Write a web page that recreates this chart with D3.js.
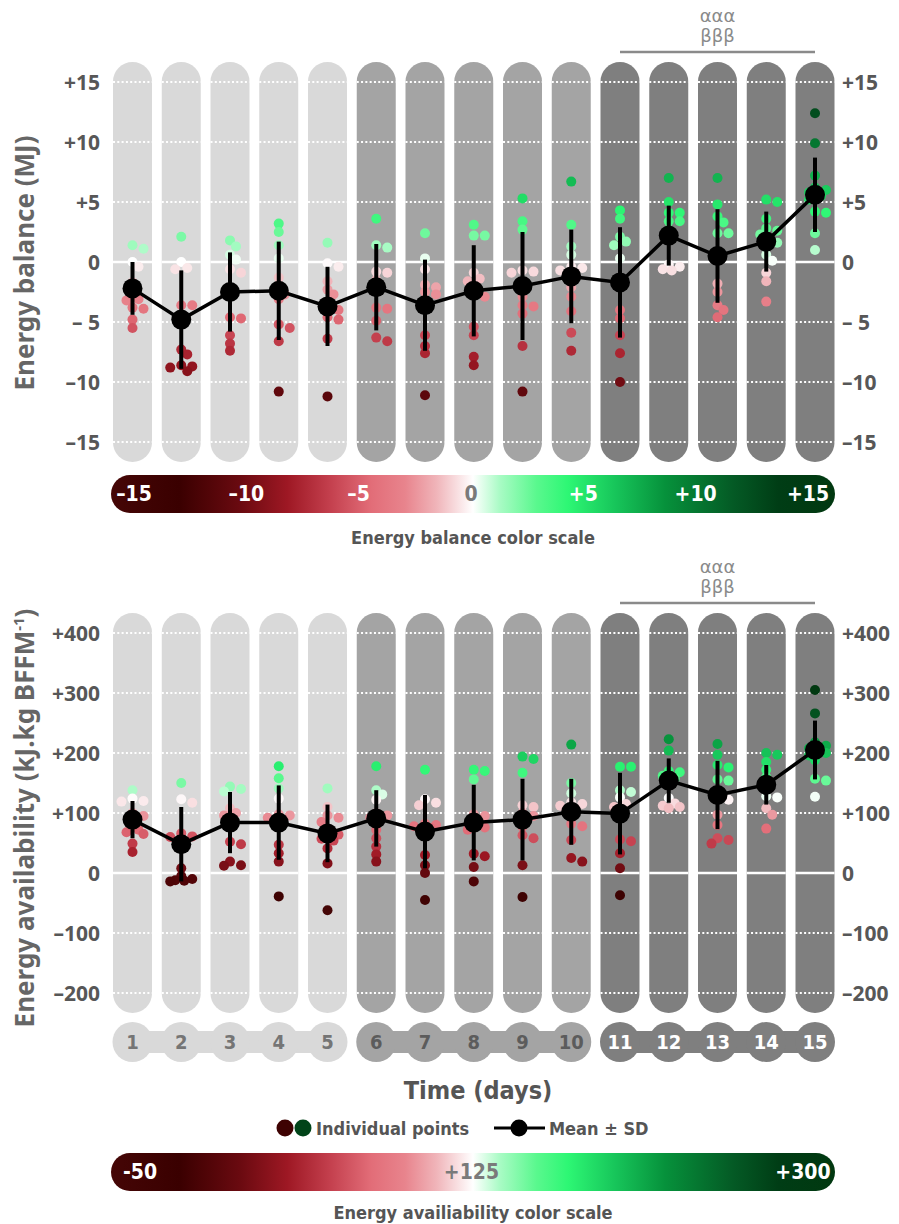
<!DOCTYPE html>
<html>
<head>
<meta charset="utf-8">
<script src="https://cdn.jsdelivr.net/npm/d3@7"></script>
<style>
  html, body { margin: 0; padding: 0; background: #ffffff; }
  svg { display: block; }
  .tick-label { font-family: "Noto Sans", "DejaVu Sans", sans-serif; font-weight: 700; font-size: 21px; fill: #575757; }
  .axis-title { font-family: "Noto Sans", "DejaVu Sans", sans-serif; font-weight: 700; font-size: 26px; fill: #666666; }
  .cond { font-family: "DejaVu Sans Condensed", "DejaVu Sans", sans-serif; font-stretch: condensed; font-weight: 700; }
  .annot { font-family: "DejaVu Sans", sans-serif; font-size: 18px; fill: #8a8a8a; }
</style>
</head>
<body>
<svg id="chart" width="899" height="1224"></svg>
<script>
// ---- data ---------------------------------------------------------------
const days = [1, 2, 3, 4, 5, 6, 7, 8, 9, 10, 11, 12, 13, 14, 15];
const dayPhase = [0, 0, 0, 0, 0, 1, 1, 1, 1, 1, 2, 2, 2, 2, 2];

// Energy balance (MJ)
const ebMean = [-2.2, -4.8, -2.5, -2.4, -3.7, -2.1, -3.6, -2.4, -2.0, -1.2, -1.7, 2.2, 0.5, 1.7, 5.6];
const ebSD   = [2.2, 4.1, 3.3, 4.1, 3.3, 3.6, 3.8, 3.8, 4.5, 3.9, 4.6, 2.5, 3.9, 2.5, 3.1];
const ebPoints = [
  [1.4, 1.1, 0.0, -0.4, -1.7, -2.6, -3.1, -3.2, -3.9, -3.8, -4.8, -5.5],
  [2.1, 0.0, -0.5, -0.6, -3.6, -3.6, -7.3, -7.7, -8.6, -8.7, -8.8, -9.1],
  [1.8, 1.3, 0.6, 0.2, -0.6, -0.9, -4.6, -4.7, -6.1, -6.8, -7.4],
  [3.2, 2.5, 1.4, 0.3, -1.3, -2.2, -2.7, -3.1, -5.2, -5.5, -6.6, -10.8],
  [1.6, -0.1, -0.4, -1.6, -2.3, -2.7, -4.0, -4.0, -4.6, -4.8, -6.4, -11.2],
  [3.6, 1.4, 1.2, -0.8, -0.9, -1.5, -2.3, -3.8, -3.9, -4.9, -6.3, -6.6],
  [2.4, 0.3, -0.6, -1.9, -2.1, -2.5, -2.7, -6.1, -7.0, -7.6, -11.1],
  [3.1, 2.2, 2.2, -0.9, -1.4, -1.6, -2.6, -2.9, -5.4, -6.1, -7.9, -8.6],
  [5.3, 3.4, 2.7, -0.7, -0.8, -0.9, -2.9, -3.6, -3.7, -4.3, -7.0, -10.8],
  [6.7, 3.1, 1.3, 0.6, -0.4, -0.5, -0.7, -1.3, -2.1, -2.9, -4.1, -5.9, -7.4],
  [4.3, 3.6, 2.1, 1.7, 1.4, 0.3, -4.0, -4.7, -6.1, -7.6, -10.0],
  [7.0, 5.0, 4.1, 4.1, 3.4, 3.4, 2.7, 1.9, -0.2, -0.4, -0.6, -0.7],
  [7.0, 4.8, 3.8, 3.3, 2.4, 2.4, 0.6, -1.8, -2.5, -3.6, -4.0, -4.6],
  [5.2, 5.0, 3.6, 2.8, 2.6, 2.3, 1.9, 1.6, 0.6, 0.1, -0.9, -1.6, -3.3],
  [12.4, 9.9, 7.2, 6.2, 6.0, 5.8, 5.5, 5.2, 4.2, 4.1, 2.4, 1.0]
];
const ebTicks = [-15, -10, -5, 0, 5, 10, 15];
const ebTickLabels = ["–15", "–10", "– 5", "0", "+5", "+10", "+15"];

// Energy availability (kJ.kg BFFM-1)
const eaMean = [89, 48, 84, 84, 66, 91, 69, 84, 89, 102, 99, 154, 130, 147, 205];
const eaSD   = [31, 62, 51, 62, 48, 47, 61, 63, 68, 55, 68, 37, 57, 33, 49];
const eaPoints = [
  [138, 124, 120, 119, 100, 95, 82, 72, 68, 65, 49, 35],
  [150, 123, 117, 66, 61, 60, 8, -5, -10, -12, -13, -14],
  [144, 140, 136, 108, 100, 96, 88, 52, 48, 19, 13, 12],
  [178, 158, 141, 124, 98, 96, 92, 80, 47, 33, 19, -39],
  [141, 110, 96, 92, 85, 68, 64, 57, 54, 41, 16, -62],
  [178, 138, 131, 122, 100, 96, 92, 72, 58, 44, 31, 19],
  [172, 123, 117, 113, 82, 80, 78, 75, 30, 13, 0, -45],
  [172, 170, 156, 98, 95, 80, 76, 72, 32, 28, 10, -14],
  [194, 190, 167, 113, 110, 100, 95, 77, 63, 58, 13, -40],
  [214, 150, 133, 118, 115, 112, 98, 82, 78, 55, 25, 19],
  [177, 177, 138, 135, 126, 115, 110, 56, 53, 33, 8, -37],
  [223, 204, 170, 168, 162, 158, 150, 125, 116, 112, 110, 108],
  [215, 197, 180, 176, 156, 154, 125, 122, 97, 80, 58, 55, 49],
  [200, 197, 185, 172, 160, 141, 128, 126, 108, 97, 74],
  [305, 266, 218, 212, 208, 205, 200, 196, 188, 157, 154, 127]
];
const eaTicks = [-200, -100, 0, 100, 200, 300, 400];
const eaTickLabels = ["–200", "–100", "0", "+100", "+200", "+300", "+400"];

// Diverging colour ramp, expressed in energy-balance units (MJ)
const rampStops  = [-16, -13, -10.3, -8.2, -6.3, -4.5, -3, -1.6, 0, 1.2, 2.8, 4.2, 6.3, 8.5, 11.5, 13.5, 16];
const rampColors = ["#450606", "#3a0000", "#6a0a10", "#9e1824", "#c4404e", "#e26d78", "#e8848d", "#f0b5ba",
                    "#ffffff", "#a8fbc4", "#5af88e", "#2df774", "#17c55a", "#06913b", "#045a25", "#003d15", "#013810"];
const ebBarLabels = ["–15", "–10", "–5", "0", "+5", "+10", "+15"];
const ebBarValues = [-15, -10, -5, 0, 5, 10, 15];
const eaBarLabels = ["-50", "+125", "+300"];
const eaBarValues = [-50, 125, 300];

const phaseFill = ["#d9d9d9", "#a4a4a4", "#7f7f7f"];
const phaseText = ["#757575", "#5c5c5c", "#ffffff"];

// ---- scales -------------------------------------------------------------
const svg = d3.select("#chart");
const x = d3.scalePoint().domain(days).range([132.5, 815]);
const colW = 39;

const yEB = d3.scaleLinear().domain([-15, 15]).range([442, 82]);
const yEA = d3.scaleLinear().domain([-200, 400]).range([993, 633]);

const colorEB = d3.scaleLinear().domain(rampStops).range(rampColors).clamp(true);
const eaFromEb = u => 125 + u * 175 / 15;
const colorEA = d3.scaleLinear().domain(rampStops.map(eaFromEb)).range(rampColors).clamp(true);

// gradient for the colour bars
const defs = svg.append("defs");
const grad = defs.append("linearGradient").attr("id", "ramp").attr("x1", 0).attr("x2", 1).attr("y1", 0).attr("y2", 0);
const stopPos = d3.scaleLinear().domain([-16, 16]).range([0, 1]);
rampStops.forEach((s, i) => grad.append("stop").attr("offset", stopPos(s)).attr("stop-color", rampColors[i]));

// deterministic swarm layout: points sorted by value, nudged sideways when they collide
function swarm(values, y, r) {
  const placed = [];
  const sorted = values.map(v => ({ v, y: y(v) })).sort((a, b) => a.y - b.y);
  const offsets = [0, 6, -6, 11, -11, 3, -3, 9, -9];
  const minD = r * 1.4;
  sorted.forEach(p => {
    let best = offsets[0], bestOverlap = Infinity;
    for (const o of offsets) {
      let overlap = 0;
      for (const q of placed) {
        const d = Math.hypot(o - q.dx, p.y - q.y);
        if (d < minD) overlap += (minD - d);
      }
      if (overlap === 0) { best = o; bestOverlap = 0; break; }
      if (overlap < bestOverlap) { bestOverlap = overlap; best = o; }
    }
    p.dx = best;
    placed.push(p);
  });
  return placed;
}

// ---- one panel ----------------------------------------------------------
function panel(opts) {
  const { y, ticks, tickLabels, mean, sd, points, color, title, annY } = opts;
  const g = svg.append("g");
  const top = y(ticks[ticks.length - 1]) - 20;
  const bottom = y(ticks[0]) + 20;

  // rounded day columns
  g.selectAll("rect.col").data(days).join("rect")
    .attr("class", "col")
    .attr("x", d => x(d) - colW / 2).attr("width", colW)
    .attr("y", top).attr("height", bottom - top)
    .attr("rx", colW / 2).attr("ry", colW / 2)
    .attr("fill", (d, i) => phaseFill[dayPhase[i]]);

  // dotted grid on each column, solid line at zero
  days.forEach(d => {
    ticks.forEach(t => {
      g.append("line")
        .attr("x1", x(d) - colW / 2).attr("x2", x(d) + colW / 2)
        .attr("y1", y(t)).attr("y2", y(t))
        .attr("stroke", "#ffffff")
        .attr("stroke-width", t === 0 ? 2.5 : 2)
        .attr("stroke-dasharray", t === 0 ? null : "2,2.3");
    });
  });

  // tick labels on both sides
  g.selectAll("text.tl").data(ticks).join("text")
    .attr("class", "tick-label tl")
    .attr("x", 100).attr("y", d => y(d))
    .attr("text-anchor", "end").attr("dominant-baseline", "central")
    .text((d, i) => tickLabels[i]);
  g.selectAll("text.tr").data(ticks).join("text")
    .attr("class", "tick-label tr")
    .attr("x", 842).attr("y", d => y(d))
    .attr("text-anchor", "start").attr("dominant-baseline", "central")
    .text((d, i) => tickLabels[i]);

  // individual points
  days.forEach((d, i) => {
    const sw = swarm(points[i], y, 5);
    g.selectAll(null).data(sw).join("circle")
      .attr("cx", p => x(d) + p.dx).attr("cy", p => p.y)
      .attr("r", 5)
      .attr("fill", p => color(p.v));
  });

  // SD bars
  g.selectAll("line.err").data(days).join("line")
    .attr("class", "err")
    .attr("x1", d => x(d)).attr("x2", d => x(d))
    .attr("y1", (d, i) => y(mean[i] + sd[i]))
    .attr("y2", (d, i) => y(mean[i] - sd[i]))
    .attr("stroke", "#000").attr("stroke-width", 4);

  // mean line and markers
  const line = d3.line().x(d => x(d)).y((d, i) => y(mean[i]));
  g.append("path").datum(days).attr("d", line)
    .attr("fill", "none").attr("stroke", "#000").attr("stroke-width", 3.5);
  g.selectAll("circle.mean").data(days).join("circle")
    .attr("class", "mean")
    .attr("cx", d => x(d)).attr("cy", (d, i) => y(mean[i]))
    .attr("r", 10).attr("fill", "#000");

  // significance bracket above days 11-15
  g.append("line")
    .attr("x1", x(11)).attr("x2", x(15))
    .attr("y1", annY).attr("y2", annY)
    .attr("stroke", "#8a8a8a").attr("stroke-width", 2.5);
  g.append("text").attr("class", "annot")
    .attr("x", (x(11) + x(15)) / 2).attr("y", annY - 37)
    .attr("text-anchor", "middle").attr("dominant-baseline", "central")
    .text("ααα");
  g.append("text").attr("class", "annot")
    .attr("x", (x(11) + x(15)) / 2).attr("y", annY - 17)
    .attr("text-anchor", "middle").attr("dominant-baseline", "central")
    .text("βββ");

  // rotated axis title
  const tt = g.append("text").attr("class", "axis-title")
    .attr("transform", `translate(34,${opts.titleY}) rotate(-90)`)
    .attr("text-anchor", "middle");
  title(tt);
}

panel({
  y: yEB, ticks: ebTicks, tickLabels: ebTickLabels,
  mean: ebMean, sd: ebSD, points: ebPoints, color: colorEB,
  annY: 52, titleY: 263,
  title: t => t.text("Energy balance (MJ)")
});

panel({
  y: yEA, ticks: eaTicks, tickLabels: eaTickLabels,
  mean: eaMean, sd: eaSD, points: eaPoints, color: colorEA,
  annY: 603, titleY: 818,
  title: t => {
    t.append("tspan").text("Energy availability (kJ.kg BFFM");
    t.append("tspan").attr("baseline-shift", "super").attr("font-size", "15px").text("-1");
    t.append("tspan").text(")");
  }
});

// ---- colour bars --------------------------------------------------------
function colorBar(opts) {
  const { top, labels, values, sx, darkIdx, caption, captionY } = opts;
  const g = svg.append("g");
  g.append("rect")
    .attr("x", 111).attr("y", top).attr("width", 724).attr("height", 38)
    .attr("rx", 19).attr("ry", 19)
    .attr("fill", "url(#ramp)");
  g.selectAll("text.bl").data(values).join("text")
    .attr("class", "cond bl")
    .attr("x", d => sx(d)).attr("y", top + 19)
    .attr("text-anchor", "middle").attr("dominant-baseline", "central")
    .attr("font-size", "21px")
    .attr("fill", (d, i) => i === darkIdx ? "#7a7a7a" : "#ffffff")
    .text((d, i) => labels[i]);
  g.append("text").attr("class", "cond")
    .attr("x", 473).attr("y", captionY)
    .attr("text-anchor", "middle").attr("dominant-baseline", "central")
    .attr("font-size", "18px").attr("fill", "#555555")
    .text(caption);
}

colorBar({
  top: 475, labels: ebBarLabels, values: ebBarValues,
  sx: d3.scaleLinear().domain([-15, 15]).range([134, 808]),
  darkIdx: 3, caption: "Energy balance color scale", captionY: 537
});

// ---- day axis -----------------------------------------------------------
const dayY = 1042;
const dayG = svg.append("g");
[0, 1, 2].forEach(ph => {
  const ds = days.filter((d, i) => dayPhase[i] === ph);
  dayG.append("rect")
    .attr("x", x(ds[0])).attr("width", x(ds[ds.length - 1]) - x(ds[0]))
    .attr("y", dayY - 11).attr("height", 22)
    .attr("fill", phaseFill[ph]);
});
dayG.selectAll("circle").data(days).join("circle")
  .attr("cx", d => x(d)).attr("cy", dayY).attr("r", 20)
  .attr("fill", (d, i) => phaseFill[dayPhase[i]]);
dayG.selectAll("text").data(days).join("text")
  .attr("class", "cond")
  .attr("x", d => x(d)).attr("y", dayY)
  .attr("text-anchor", "middle").attr("dominant-baseline", "central")
  .attr("font-size", "20px")
  .attr("fill", (d, i) => phaseText[dayPhase[i]])
  .text(d => d);

svg.append("text").attr("class", "cond")
  .attr("x", 478).attr("y", 1090)
  .attr("text-anchor", "middle").attr("dominant-baseline", "central")
  .attr("font-size", "25px").attr("fill", "#555555")
  .text("Time (days)");

// ---- legend -------------------------------------------------------------
const leg = svg.append("g");
leg.append("circle").attr("cx", 285).attr("cy", 1128).attr("r", 8.5).attr("fill", colorEB(-14));
leg.append("circle").attr("cx", 303).attr("cy", 1128).attr("r", 8.5).attr("fill", colorEB(13));
leg.append("text").attr("class", "cond")
  .attr("x", 316).attr("y", 1128).attr("dominant-baseline", "central")
  .attr("font-size", "18px").attr("fill", "#555555")
  .text("Individual points");
leg.append("line").attr("x1", 494).attr("x2", 545).attr("y1", 1128).attr("y2", 1128)
  .attr("stroke", "#000").attr("stroke-width", 3);
leg.append("circle").attr("cx", 519).attr("cy", 1128).attr("r", 8.5).attr("fill", "#000");
leg.append("text").attr("class", "cond")
  .attr("x", 549).attr("y", 1128).attr("dominant-baseline", "central")
  .attr("font-size", "18px").attr("fill", "#555555")
  .text("Mean ± SD");

colorBar({
  top: 1153, labels: eaBarLabels, values: eaBarValues,
  sx: d3.scaleLinear().domain([-50, 300]).range([140, 803]),
  darkIdx: 1, caption: "Energy availiability color scale", captionY: 1212
});
</script>
</body>
</html>
